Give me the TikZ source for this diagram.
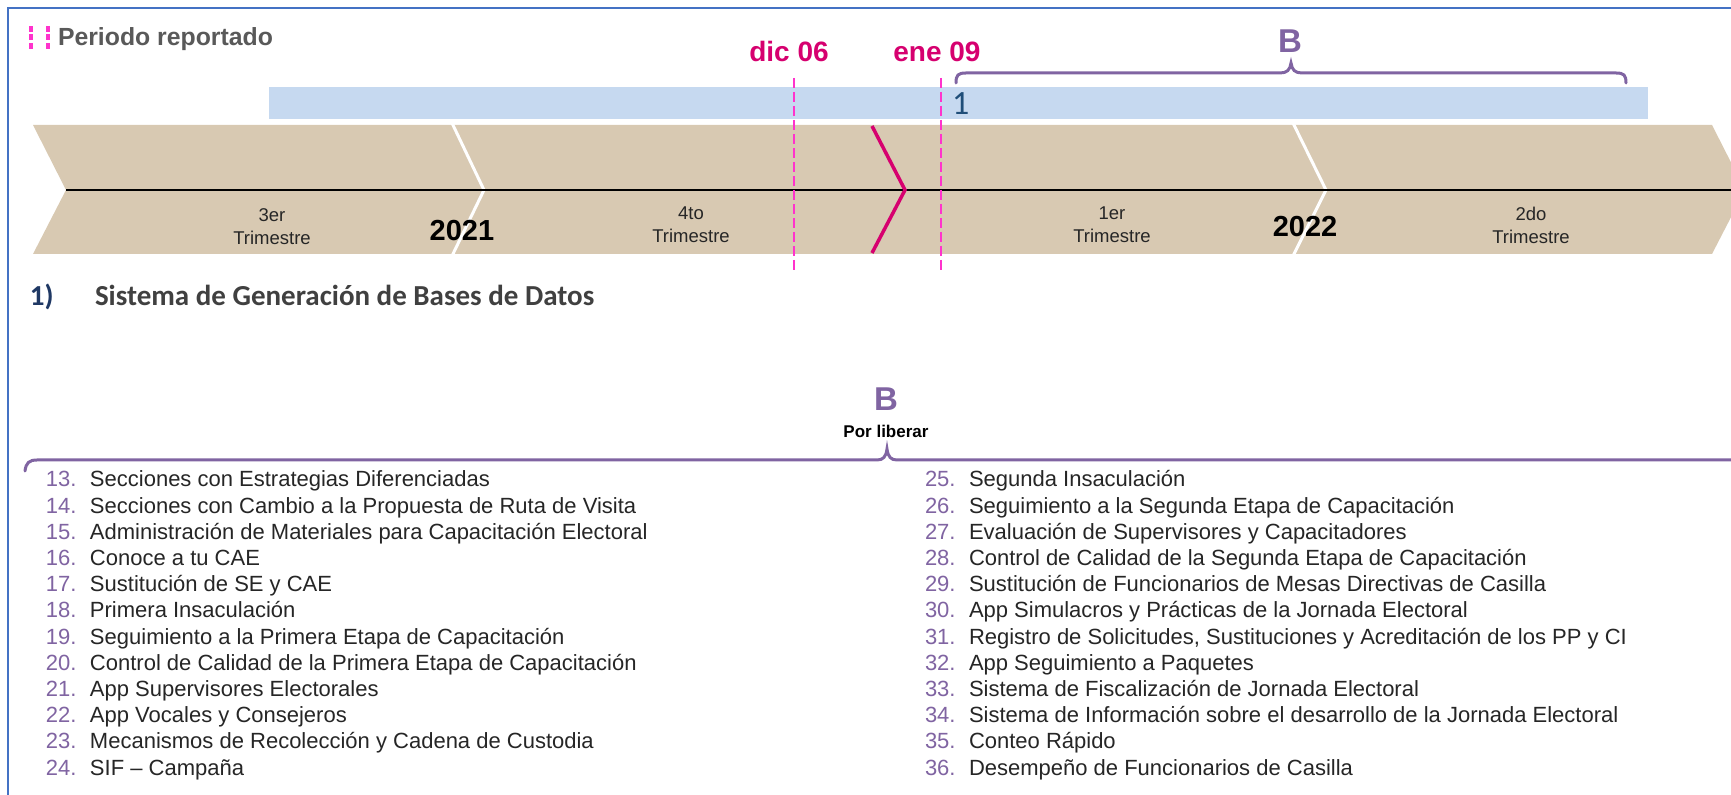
\documentclass[tikz,border=0pt]{standalone}
\usepackage{fontspec}
\setmainfont{Liberation Sans}
\newfontfamily\calib{Carlito}
\definecolor{framblue}{RGB}{68,114,196}
\definecolor{barblue}{RGB}{198,217,240}
\definecolor{bandtan}{RGB}{216,201,178}
\definecolor{magdeep}{RGB}{214,0,111}
\definecolor{pinkdash}{RGB}{255,51,204}
\definecolor{bpurple}{RGB}{128,100,162}
\definecolor{numpurple}{RGB}{128,100,162}
\definecolor{itemgray}{RGB}{38,38,38}
\definecolor{titlegray}{RGB}{89,89,89}
\definecolor{navy}{RGB}{31,56,100}
\definecolor{secgray}{RGB}{64,64,64}
\definecolor{onecol}{RGB}{31,78,121}
\tikzset{
  lbl/.style={inner sep=0pt, outer sep=0pt},
  numtxt/.style={lbl, anchor=base west, text=numpurple, font=\fontsize{11}{13}\selectfont},
  itemtxt/.style={lbl, anchor=base west, text=itemgray, font=\fontsize{11}{13}\selectfont},
  qtr/.style={lbl, align=center, text=itemgray, font=\fontsize{9.25}{11.5}\selectfont},
  yearlbl/.style={lbl, anchor=base, text=black, font=\bfseries\fontsize{14.5}{17}\selectfont},
  datelbl/.style={lbl, anchor=base, text=magdeep, font=\bfseries\fontsize{14}{17}\selectfont},
  blbl/.style={lbl, anchor=base, text=bpurple, font=\bfseries\fontsize{16.5}{19}\selectfont},
  marker/.style={draw=pinkdash, line width=1.3pt, dash pattern=on 5pt off 2pt},
  bracestyle/.style={draw=bpurple, line width=1.5pt, line cap=round},
  divider/.style={draw=white, line width=1.5pt},
}
\begin{document}
\begin{tikzpicture}[x=0.5pt,y=-0.5pt]
\useasboundingbox (0,0) rectangle (1731,795);
\fill[white] (0,0) rectangle (1731,795);
\clip (0,0) rectangle (1731,795);
% frame
\draw[framblue, line width=1pt] (1760,8) -- (8,8) -- (8,820);
% Periodo reportado marker
\foreach \xx in {31,48}{\foreach \yy in {29,37,46}{\fill[pinkdash] (\xx-2.2,\yy-2.8) rectangle (\xx+2.2,\yy+2.8);}}
\node[lbl, anchor=base west, text=titlegray, font=\bfseries\fontsize{12.4}{14}\selectfont] (periodo) at (58,46) {Periodo reportado};
% blue bar
\fill[barblue] (269,87) rectangle (1648,119);
\node[lbl, anchor=base west, text=onecol, font=\calib\fontsize{17}{19}\selectfont] (one) at (952,115) {1};
% band
\fill[bandtan] (33,125) -- (1712,125) -- (1745,190) -- (1712,254) -- (33,254) -- (66,190) -- cycle;
\draw[divider] (452,123) -- (484,190) -- (452,256);
\draw[divider] (1293,123) -- (1326,190) -- (1293,256);
\draw[black, line width=1.3pt] (66,190) -- (1740,190);
\draw[magdeep, line width=1.75pt] (872,126) -- (905,190) -- (872,253);
% quarter labels
\node[qtr] (q3) at (272,227) {3er\\Trimestre};
\node[qtr] (q4) at (691,225) {4to\\Trimestre};
\node[qtr] (q1) at (1112,225) {1er\\Trimestre};
\node[qtr] (q2) at (1531,225) {2do\\Trimestre};
\node[yearlbl] (y21) at (462,241) {2021};
\node[yearlbl] (y22) at (1305,237) {2022};
% date markers
\coordinate (d1t) at (794,78); \coordinate (d1b) at (794,272);
\coordinate (d2t) at (941,78); \coordinate (d2b) at (941,272);
\draw[marker] (d1t) -- (d1b);
\draw[marker] (d2t) -- (d2b);
\node[datelbl] (dic) at (789,62) {dic 06};
\node[datelbl] (ene) at (937,62) {ene 09};
% top brace
\draw[bracestyle] (956,83) .. controls (956,75) and (958,73) .. (966,73) -- (1280,73) .. controls (1287,73) and (1290,70) .. (1291,63) .. controls (1292,70) and (1295,73) .. (1302,73) -- (1616,73) .. controls (1624,73) and (1626,75) .. (1626,83);
\node[blbl] (btop) at (1290,53) {B};
% section title
\node[lbl, anchor=base west, text=navy, font=\calib\bfseries\fontsize{14.5}{17}\selectfont] (sec) at (30,306) {1)};
\node[lbl, anchor=base west, text=secgray, font=\calib\bfseries\fontsize{14.5}{17}\selectfont] (sectitle) at (95,306) {Sistema de Generación de Bases de Datos};
% lower B
\node[blbl] (blow) at (886,411) {B};
\node[lbl, anchor=base, text=black, font=\bfseries\fontsize{8.5}{10}\selectfont] (porlib) at (886,438) {Por liberar};
\draw[bracestyle] (25,471) .. controls (26,463) and (29,460) .. (37,460) -- (877,460) .. controls (883,460) and (886,457) .. (887,449) .. controls (888,457) and (891,460) .. (897,460) -- (1760,460);
% list left
\foreach \t [count=\i from 0] in {Secciones con Estrategias Diferenciadas, Secciones con Cambio a la Propuesta de Ruta de Visita, Administración de Materiales para Capacitación Electoral, Conoce a tu CAE, Sustitución de SE y CAE, Primera Insaculación, Seguimiento a la Primera Etapa de Capacitación, Control de Calidad de la Primera Etapa de Capacitación, App Supervisores Electorales, App Vocales y Consejeros, Mecanismos de Recolección y Cadena de Custodia, SIF – Campaña}{
  \pgfmathtruncatemacro\num{13+\i}
  \node[numtxt] (n\num) at (46,{487+26.2*\i}) {\num.};
  \node[itemtxt] (t\num) at (90,{487+26.2*\i}) {\t};
}
% list right
\foreach \t [count=\i from 0] in {Segunda Insaculación, Seguimiento a la Segunda Etapa de Capacitación, Evaluación de Supervisores y Capacitadores, Control de Calidad de la Segunda Etapa de Capacitación, Sustitución de Funcionarios de Mesas Directivas de Casilla, App Simulacros y Prácticas de la Jornada Electoral, {Registro de Solicitudes, Sustituciones y Acreditación de los PP y CI}, App Seguimiento a Paquetes, Sistema de Fiscalización de Jornada Electoral, Sistema de Información sobre el desarrollo de la Jornada Electoral, Conteo Rápido, Desempeño de Funcionarios de Casilla}{
  \pgfmathtruncatemacro\num{25+\i}
  \node[numtxt] (n\num) at (925,{487+26.2*\i}) {\num.};
  \node[itemtxt] (t\num) at (969,{487+26.2*\i}) {\t};
}
\end{tikzpicture}
\end{document}
